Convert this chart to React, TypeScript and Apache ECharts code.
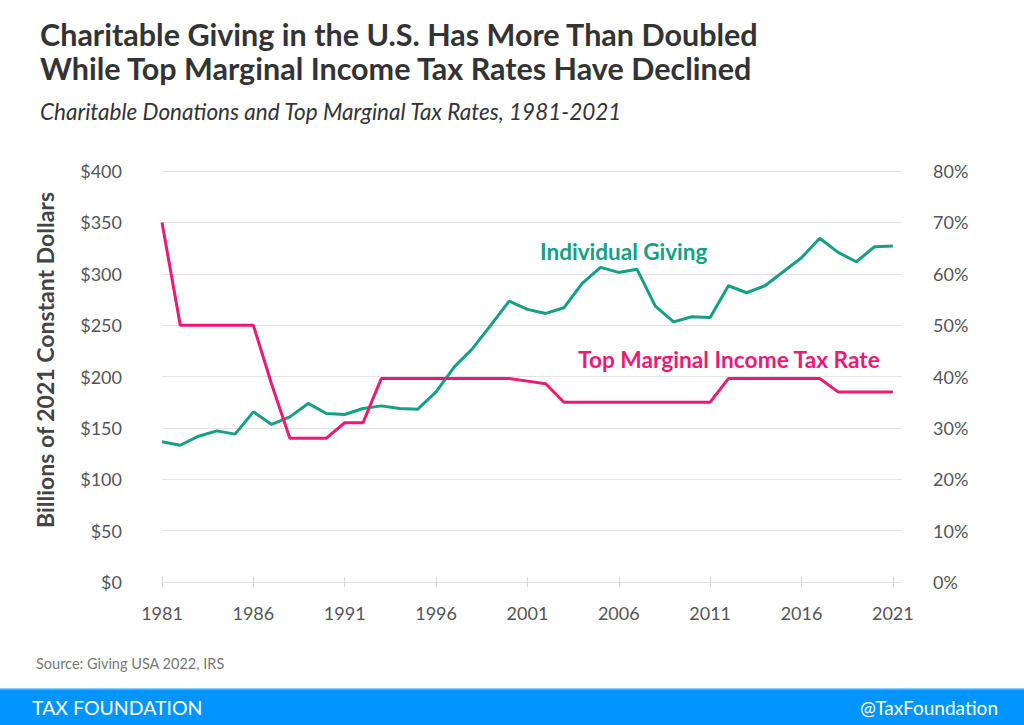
import React, { useEffect, useRef } from "react";
import * as echarts from "echarts";

const years: number[] = [];
for (let y = 1981; y <= 2021; y++) years.push(y);

const givingBillions = [
  136.4, 133.1, 141.9, 147.1, 143.9, 165.6, 153.3, 160.7, 173.8, 164,
  163, 168.9, 171.4, 168.9, 168.2, 185, 209.4, 227.3, 250, 273.4,
  265.3, 261.4, 266.9, 290.6, 306.2, 301.3, 304.3, 268.5, 253.2, 258.1,
  257.5, 288.3, 281.5, 288.3, 302, 315.6, 334.5, 320.8, 311.7, 326.3, 327,
];

const topRatePct = [
  70, 50, 50, 50, 50, 50, 38.5, 28, 28, 28,
  31, 31, 39.6, 39.6, 39.6, 39.6, 39.6, 39.6, 39.6, 39.6,
  39.1, 38.6, 35, 35, 35, 35, 35, 35, 35, 35,
  35, 39.6, 39.6, 39.6, 39.6, 39.6, 39.6, 37, 37, 37, 37,
];

const xTickYears = [1981, 1986, 1991, 1996, 2001, 2006, 2011, 2016, 2021];

const TITLE_1 = "Charitable Giving in the U.S. Has More Than Doubled";
const TITLE_2 = "While Top Marginal Income Tax Rates Have Declined";
const SUBTITLE = "Charitable Donations and Top Marginal Tax Rates, 1981-2021";
const Y_NAME = "Billions of 2021 Constant Dollars";
const SOURCE = "Source: Giving USA 2022, IRS";
const LABEL_GIVING = "Individual Giving";
const LABEL_RATE = "Top Marginal Income Tax Rate";

const GREEN = "#15a084";
const PINK = "#ec1a74";
const GRID = "#e3e3e3";
const AXIS_TEXT = "#555555";
const FONT = "Lato";

export default function App() {
  const ref = useRef<HTMLDivElement>(null);

  useEffect(() => {
    if (!ref.current) return;
    const chart = echarts.init(ref.current, undefined, { renderer: "svg" });

    const givingData = years.map((y, i) => [y, givingBillions[i]]);
    const rateData = years.map((y, i) => [y, topRatePct[i]]);

    chart.setOption({
      animation: false,
      backgroundColor: "#ffffff",
      textStyle: { fontFamily: FONT },
      grid: { left: 162, right: 122, top: 171, bottom: 143, containLabel: false },
      xAxis: [
        {
          type: "value",
          min: 1981,
          max: 2021.5,
          axisLine: { show: true, lineStyle: { color: GRID, width: 1 } },
          axisTick: {
            show: true,
            length: 5,
            customValues: xTickYears,
            lineStyle: { color: "#d6d6d6" },
          },
          axisLabel: {
            customValues: xTickYears,
            color: AXIS_TEXT,
            fontSize: 18,
            fontFamily: FONT,
            margin: 22,
            formatter: (v: number) => String(v),
          },
          splitLine: { show: false },
        },
        {
          type: "value",
          position: "bottom",
          min: 1981,
          max: 2021.5,
          axisLine: { show: false },
          axisTick: {
            show: true,
            inside: true,
            length: 5,
            customValues: xTickYears,
            lineStyle: { color: "#d6d6d6" },
          },
          axisLabel: { show: false },
          splitLine: { show: false },
        },
      ],
      yAxis: [
        {
          type: "value",
          min: 0,
          max: 400,
          interval: 50,
          axisLine: { show: false },
          axisTick: { show: false },
          axisLabel: {
            color: AXIS_TEXT,
            fontSize: 18,
            fontFamily: FONT,
            margin: 40,
            formatter: (v: number) => "$" + v,
          },
          splitLine: { show: true, lineStyle: { color: GRID, width: 1 } },
        },
        {
          type: "value",
          min: 0,
          max: 80,
          interval: 10,
          position: "right",
          axisLine: { show: false },
          axisTick: { show: false },
          axisLabel: {
            color: AXIS_TEXT,
            fontSize: 18,
            fontFamily: FONT,
            align: "left",
            margin: 31,
            formatter: (v: number) => v + "%",
          },
          splitLine: { show: false },
        },
      ],
      series: [
        {
          name: LABEL_GIVING,
          type: "line",
          xAxisIndex: 0,
          yAxisIndex: 0,
          data: givingData,
          showSymbol: false,
          symbol: "none",
          lineStyle: { color: GREEN, width: 3 },
          itemStyle: { color: GREEN },
          z: 3,
        },
        {
          name: LABEL_RATE,
          type: "line",
          xAxisIndex: 0,
          yAxisIndex: 1,
          data: rateData,
          showSymbol: false,
          symbol: "none",
          lineStyle: { color: PINK, width: 3 },
          itemStyle: { color: PINK },
          z: 4,
        },
      ],
      graphic: [
        {
          type: "text",
          x: 40,
          y: 34,
          style: { text: TITLE_1, font: `bold 30.5px ${FONT}`, fill: "#333333", verticalAlign: "middle" },
        },
        {
          type: "text",
          x: 40,
          y: 68,
          style: { text: TITLE_2, font: `bold 30.5px ${FONT}`, fill: "#333333", verticalAlign: "middle" },
        },
        {
          type: "text",
          x: 40,
          y: 111,
          style: { text: SUBTITLE, font: `italic 22.5px ${FONT}`, fill: "#333333", verticalAlign: "middle" },
        },
        {
          type: "text",
          x: 45,
          y: 360,
          rotation: Math.PI / 2,
          style: {
            text: Y_NAME,
            font: `bold 23px ${FONT}`,
            fill: "#444444",
            align: "center",
            verticalAlign: "middle",
          },
        },
        {
          type: "text",
          x: 540,
          y: 251,
          style: { text: LABEL_GIVING, font: `bold 22.5px ${FONT}`, fill: GREEN, verticalAlign: "middle" },
        },
        {
          type: "text",
          x: 578,
          y: 359,
          style: { text: LABEL_RATE, font: `bold 22.7px ${FONT}`, fill: PINK, verticalAlign: "middle" },
        },
        {
          type: "text",
          x: 36,
          y: 663,
          style: { text: SOURCE, font: `14.5px ${FONT}`, fill: "#777777", verticalAlign: "middle" },
        },
        {
          type: "rect",
          shape: { x: 0, y: 689, width: 1024, height: 36 },
          style: { fill: "#0094ff" },
        },
        {
          type: "rect",
          shape: { x: 0, y: 688, width: 1024, height: 1.5 },
          style: { fill: "#8ccdff" },
        },
        {
          type: "text",
          x: 32,
          y: 707,
          style: { text: "TAX FOUNDATION", font: `19.5px ${FONT}`, fill: "#ffffff", verticalAlign: "middle" },
        },
        {
          type: "text",
          x: 998,
          y: 707,
          style: {
            text: "@TaxFoundation",
            font: `19px ${FONT}`,
            fill: "#ffffff",
            align: "right",
            verticalAlign: "middle",
          },
        },
      ],
    });

    return () => chart.dispose();
  }, []);

  return (
    <div
      ref={ref}
      style={{ position: "absolute", left: 0, top: 0, width: 1024, height: 725 }}
    />
  );
}
